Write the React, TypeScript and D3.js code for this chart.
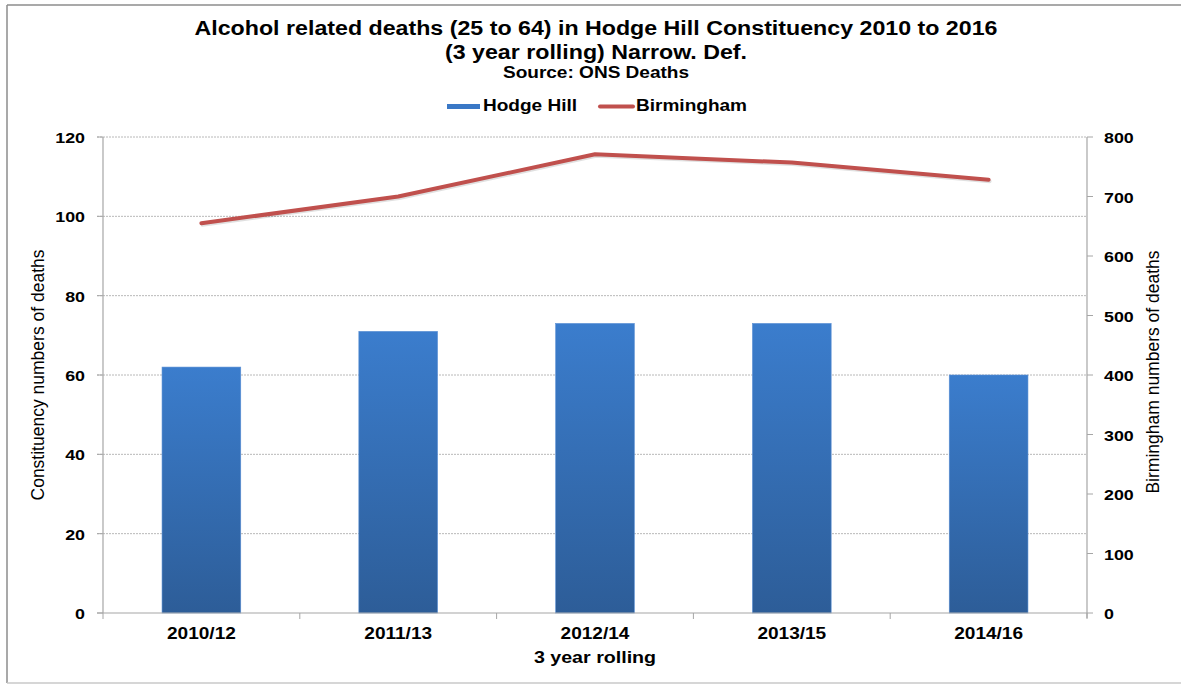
import React from "react";
import * as d3 from "d3";

const categories = ["2010/12", "2011/13", "2012/14", "2013/15", "2014/16"];
const hodgeHill = [62, 71, 73, 73, 60];
const birmingham = [655, 700, 771, 757, 728];
const leftTicks = [0, 20, 40, 60, 80, 100, 120];
const rightTicks = [0, 100, 200, 300, 400, 500, 600, 700, 800];

const W = 1181;
const H = 684;
const SX = 1.19;
const FONT = "'Liberation Sans', Arial, sans-serif";

function T(props: {
  x: number;
  y: number;
  size: number;
  anchor?: string;
  weight?: string;
  sx?: number;
  children: React.ReactNode;
}) {
  const { x, y, size, anchor = "middle", weight = "bold", sx = SX, children } = props;
  return (
    <text
      transform={`translate(${x},${y}) scale(${sx},1)`}
      fontSize={size}
      fontWeight={weight}
      textAnchor={anchor}
      fontFamily={FONT}
      fill="#000"
    >
      {children}
    </text>
  );
}

export default function App() {
  const left = 103;
  const right = 1087;
  const top = 137;
  const bottom = 613;

  const x = d3
    .scaleBand<string>()
    .domain(categories)
    .range([left, right])
    .paddingInner(0.6)
    .paddingOuter(0.3);
  const yL = d3.scaleLinear().domain([0, 120]).range([bottom, top]);
  const yR = d3.scaleLinear().domain([0, 800]).range([bottom, top]);
  const step = x.step();
  const bw = x.bandwidth();

  const line = d3
    .line<number>()
    .x((_, i) => (x(categories[i]) as number) + bw / 2)
    .y((d) => yR(d));

  const boundaries = d3.range(categories.length + 1).map((i) => left + i * step);

  return (
    <svg
      width={W}
      height={H}
      style={{ position: "absolute", left: 0, top: 0, background: "#fff" }}
    >
      <defs>
        <linearGradient id="barGrad" x1="0" y1="0" x2="0" y2="1">
          <stop offset="0%" stopColor="#3b7dcd" />
          <stop offset="100%" stopColor="#2d5d98" />
        </linearGradient>
      </defs>
      <rect x={0} y={0} width={W} height={H} fill="#fff" />
      {/* frame */}
      <line x1={7} y1={5} x2={W} y2={5} stroke="#8c8c8c" strokeWidth={1.5} />
      <line x1={7} y1={5} x2={7} y2={683} stroke="#8c8c8c" strokeWidth={1.5} />
      <line x1={7} y1={683} x2={W} y2={683} stroke="#c8c8c8" strokeWidth={1.5} />

      {/* title */}
      <T x={596} y={35} size={19.5}>
        Alcohol related deaths (25 to 64) in Hodge Hill Constituency 2010 to 2016
      </T>
      <T x={596} y={59} size={19.5}>
        (3 year rolling) Narrow. Def.
      </T>
      <T x={596} y={78} size={16}>
        Source: ONS Deaths
      </T>

      {/* legend */}
      <rect x={447} y={104} width={33} height={5} fill="#3a78c6" />
      <T x={483} y={111} size={16} anchor="start">
        Hodge Hill
      </T>
      <line x1={600} y1={106.5} x2={633} y2={106.5} stroke="#c0504d" strokeWidth={4} strokeLinecap="round" />
      <T x={636} y={111} size={16} anchor="start">
        Birmingham
      </T>

      {/* gridlines */}
      {leftTicks.slice(1).map((t) => (
        <line
          key={"g" + t}
          x1={97}
          x2={right}
          y1={yL(t)}
          y2={yL(t)}
          stroke="#b8b8b8"
          strokeWidth={1}
          strokeDasharray="2,1"
        />
      ))}

      {/* bars */}
      {hodgeHill.map((v, i) => (
        <rect
          key={"b" + i}
          x={x(categories[i]) as number}
          y={yL(v)}
          width={bw}
          height={bottom - yL(v)}
          fill="url(#barGrad)"
          stroke="#5a8fd4"
          strokeWidth={0.6}
        />
      ))}

      {/* axes */}
      <line x1={left} x2={left} y1={top} y2={bottom} stroke="#a6a6a6" strokeWidth={1.2} />
      <line x1={right} x2={right} y1={top} y2={bottom + 5} stroke="#a6a6a6" strokeWidth={1.2} />
      <line x1={97} x2={right} y1={bottom} y2={bottom} stroke="#a6a6a6" strokeWidth={1.2} />
      {leftTicks.map((t) => (
        <g key={"lt" + t}>
          <line x1={97} x2={left} y1={yL(t)} y2={yL(t)} stroke="#a6a6a6" strokeWidth={1} />
          <T x={85} y={yL(t) + 6} size={15} anchor="end">
            {t}
          </T>
        </g>
      ))}
      {rightTicks.map((t) => (
        <g key={"rt" + t}>
          <line x1={right} x2={right + 6} y1={yR(t)} y2={yR(t)} stroke="#a6a6a6" strokeWidth={1} />
          <T x={1104} y={yR(t) + 6} size={15} anchor="start">
            {t}
          </T>
        </g>
      ))}
      {boundaries.map((b, i) => (
        <line key={"bt" + i} x1={b} x2={b} y1={bottom} y2={bottom + 6} stroke="#a6a6a6" strokeWidth={1} />
      ))}
      {categories.map((c) => (
        <T key={"c" + c} x={(x(c) as number) + bw / 2} y={639} size={16}>
          {c}
        </T>
      ))}

      {/* line series */}
      <path
        d={line(birmingham) || ""}
        fill="none"
        stroke="rgba(0,0,0,0.12)"
        strokeWidth={4}
        transform="translate(1,1.5)"
        strokeLinejoin="round"
        strokeLinecap="round"
      />
      <path
        d={line(birmingham) || ""}
        fill="none"
        stroke="#c0504d"
        strokeWidth={4}
        strokeLinejoin="round"
        strokeLinecap="round"
      />

      {/* axis titles */}
      <T x={595} y={663} size={16.5}>
        3 year rolling
      </T>
      <text
        transform={`translate(44,${(top + bottom) / 2}) rotate(-90)`}
        fontSize={17.5}
        textAnchor="middle"
        fontFamily={FONT}
        fill="#000"
      >
        Constituency numbers of deaths
      </text>
      <text
        transform={`translate(1159,${(top + bottom) / 2 - 3}) rotate(-90)`}
        fontSize={17.5}
        textAnchor="middle"
        fontFamily={FONT}
        fill="#000"
      >
        Birmingham numbers of deaths
      </text>
    </svg>
  );
}
